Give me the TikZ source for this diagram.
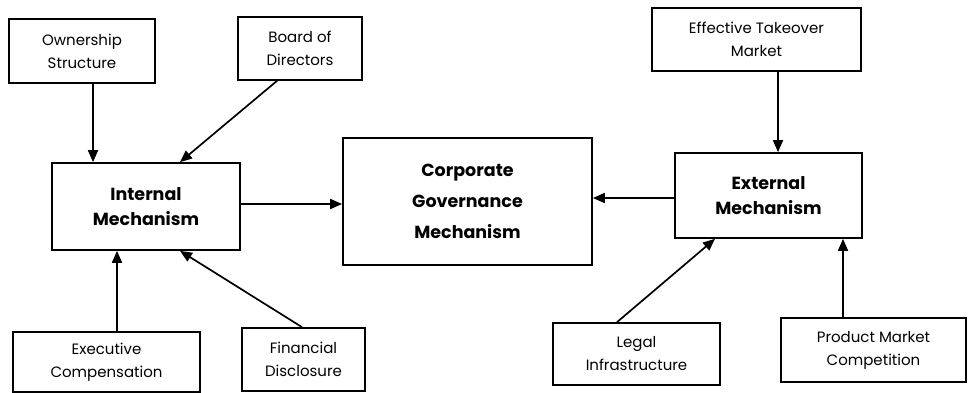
\documentclass[tikz,border=0pt]{standalone}
\usepackage{fontspec}
\setmainfont{Poppins}
\usetikzlibrary{arrows.meta}
\begin{document}
\begin{tikzpicture}[x=1pt,y=-1pt,
  box/.style={draw, line width=1.7pt, inner sep=0pt, align=center, font=\fontsize{15}{23}\selectfont},
  bigbox/.style={box, font=\fontsize{17.5}{25}\selectfont\bfseries},
  arr/.style={line width=1.7pt, -{Triangle[length=12pt,width=10pt]}}]
\useasboundingbox (0,0) rectangle (968,393);
\node[box, minimum width=146pt, minimum height=64pt] (own) at (82,51) {Ownership\\Structure};
\node[box, minimum width=124pt, minimum height=63pt] (board) at (300,48.5) {Board of\\Directors};
\node[bigbox, minimum width=188pt, minimum height=87pt] (intm) at (146,206.5) {Internal\\Mechanism};
\node[box, minimum width=187pt, minimum height=60pt] (exec) at (106.5,362) {Executive\\Compensation};
\node[box, minimum width=123pt, minimum height=63pt] (fin) at (303.5,359.5) {Financial\\Disclosure};
\node[bigbox, minimum width=249pt, minimum height=127pt, font=\fontsize{17.5}{31}\selectfont\bfseries] (corp) at (467.5,201.5) {Corporate\\Governance\\Mechanism};
\node[bigbox, minimum width=187pt, minimum height=85pt] (extm) at (768.5,195.5) {External\\Mechanism};
\node[box, minimum width=209pt, minimum height=63pt] (eff) at (756.5,39.5) {Effective Takeover\\Market};
\node[box, minimum width=167pt, minimum height=62pt] (legal) at (636.5,354) {Legal\\Infrastructure};
\node[box, minimum width=185pt, minimum height=64pt] (prod) at (873.5,350) {Product Market\\Competition};
\draw[arr] (own.south -| 93,0) -- (intm.north -| 93,0);
\draw[arr] (board.south -| 277,0) -- (intm.north -| 180,0);
\draw[arr] (exec.north -| 117,0) -- (intm.south -| 117,0);
\draw[arr] (fin.north -| 302,0) -- (intm.south -| 180,0);
\draw[arr] (intm.east |- 0,204) -- (corp.west |- 0,204);
\draw[arr] (extm.west |- 0,198) -- (corp.east |- 0,198);
\draw[arr] (eff.south -| 778,0) -- (extm.north -| 778,0);
\draw[arr] (legal.north -| 617,0) -- (extm.south -| 715,0);
\draw[arr] (prod.north -| 843,0) -- (extm.south -| 843,0);
\end{tikzpicture}
\end{document}
